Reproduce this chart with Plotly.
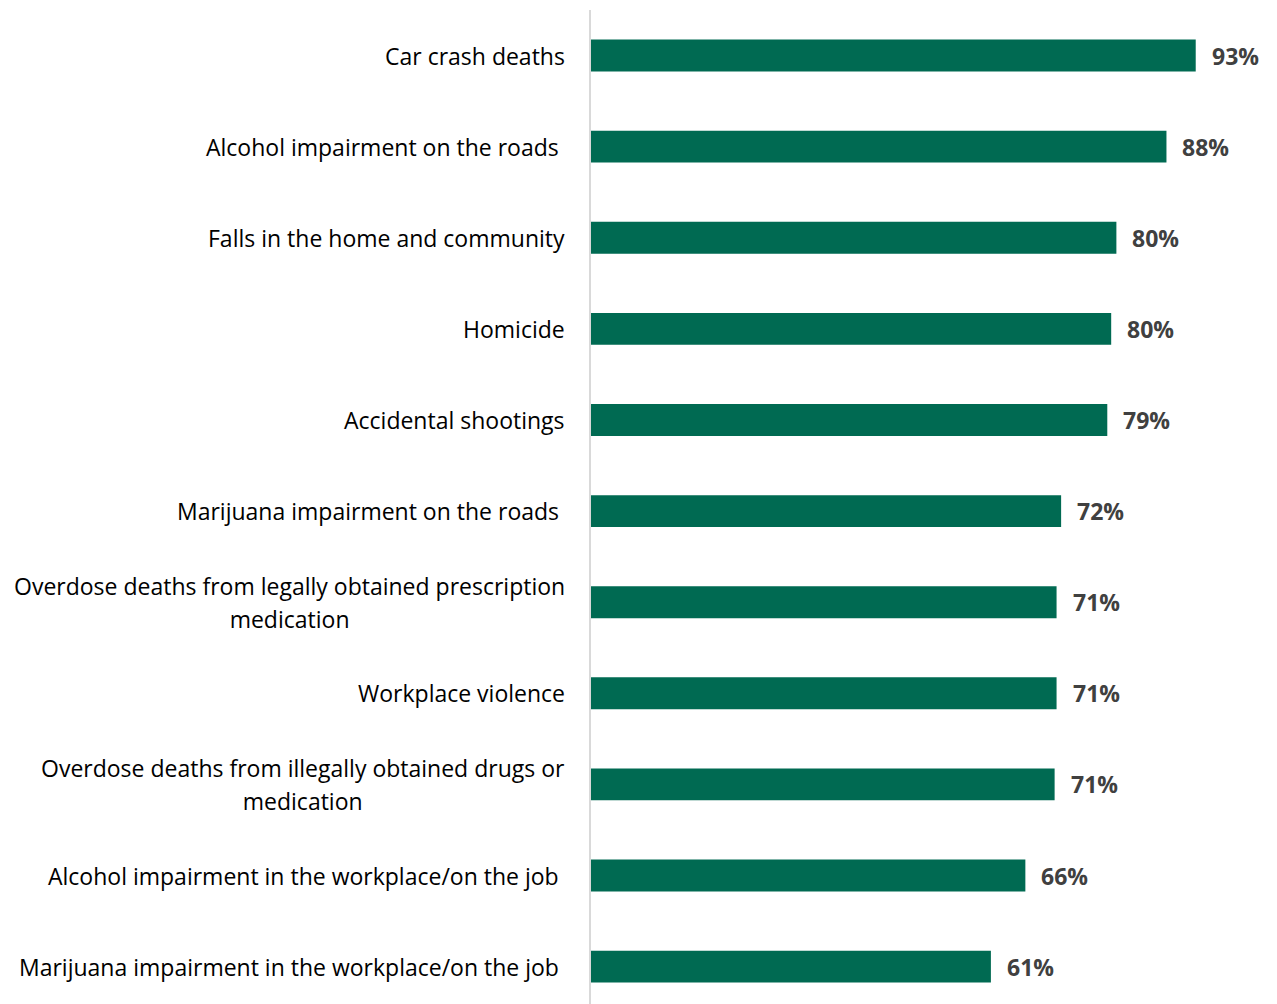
import plotly.graph_objects as go

categories = [
    "Car crash deaths",
    "Alcohol impairment on the roads ",
    "Falls in the home and community",
    "Homicide",
    "Accidental shootings",
    "Marijuana impairment on the roads ",
    "Overdose deaths from legally obtained prescription<br>medication",
    "Workplace violence",
    "Overdose deaths from illegally obtained drugs or<br>medication",
    "Alcohol impairment in the workplace/on the job ",
    "Marijuana impairment in the workplace/on the job ",
]
# bar lengths (labels show rounded values)
values = [93.0, 88.5, 80.8, 80.0, 79.4, 72.3, 71.6, 71.6, 71.3, 66.8, 61.5]
value_labels = ["93%", "88%", "80%", "80%", "79%", "72%", "71%", "71%", "71%", "66%", "61%"]

FONT = "'Open Sans', sans-serif"
ids = list(range(len(categories)))

fig = go.Figure()
fig.add_trace(go.Bar(
    x=values, y=ids, orientation="h",
    marker=dict(color="#006A52", line=dict(width=0)),
    width=0.35, hoverinfo="skip",
))


def fmt_part(part):
    if part.endswith(" "):
        part = part.rstrip() + "&nbsp;"
    return "<span style='font-size:23px'>%s</span>" % part


annotations = []
for i, (cat, v, lab) in enumerate(zip(categories, values, value_labels)):
    text = "<br>".join(fmt_part(p) for p in cat.split("<br>"))
    annotations.append(dict(
        x=0, y=i, xref="x", yref="y", text=text,
        showarrow=False, xanchor="right", yanchor="middle", align="center",
        xshift=-24, font=dict(family=FONT, size=25.4, color="#000000"),
    ))
    annotations.append(dict(
        x=v, y=i, xref="x", yref="y", text="<b>%s</b>" % lab,
        showarrow=False, xanchor="left", yanchor="middle",
        xshift=14, font=dict(family=FONT, size=23, color="#404040"),
    ))

fig.update_layout(
    width=1269, height=996,
    margin=dict(l=583, r=0, t=2, b=0),
    paper_bgcolor="white", plot_bgcolor="white",
    showlegend=False,
    xaxis=dict(range=[0, 105.5], showgrid=False, zeroline=False,
               showticklabels=False, showline=False, fixedrange=True),
    yaxis=dict(range=[10.41, -0.5], showgrid=False, zeroline=False,
               showticklabels=False, showline=True, linecolor="#D9D9D9",
               linewidth=2, fixedrange=True),
    annotations=annotations,
)

fig.write_html("out.html")
